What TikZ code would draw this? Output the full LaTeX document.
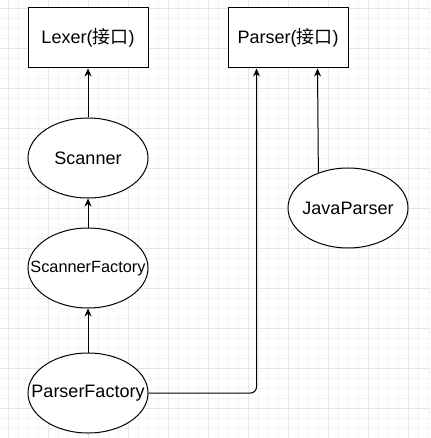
\documentclass[tikz,border=0pt]{standalone}
\usepackage{fontspec}
\setmainfont{Liberation Sans}
\newfontfamily\cjk{Noto Sans CJK SC}
\usetikzlibrary{arrows.meta,calc,shapes.geometric}
\definecolor{gridmajor}{HTML}{E6E6E6}
\definecolor{gridminor}{HTML}{F4F4F4}
\tikzset{
  box/.style={draw=black,line width=1pt,fill=white,minimum width=120pt,minimum height=60pt,inner sep=0pt,font=\fontsize{18}{20}\selectfont},
  oval/.style={ellipse,draw=black,line width=1pt,fill=white,minimum width=120pt,minimum height=80pt,inner sep=0pt},
  ovaltext/.style={font=\fontsize{18}{20}\selectfont,inner sep=0pt},
  conn/.style={draw=black,line width=1pt,-{Stealth[length=8pt,width=7pt]}}
}
\begin{document}
\begin{tikzpicture}[x=1pt,y=-1pt]
\useasboundingbox (0,0) rectangle (430,438);
\fill[white] (0,0) rectangle (430,438);
\foreach \i in {-2,...,43} {
  \draw[gridminor,line width=0.8pt] ({\i*10+8},0) -- ({\i*10+8},438);
  \draw[gridminor,line width=0.8pt] (0,{\i*10+8}) -- (430,{\i*10+8});
}
\foreach \i in {0,...,10} {
  \draw[gridmajor,line width=0.9pt] ({\i*40+8},0) -- ({\i*40+8},438);
  \draw[gridmajor,line width=0.9pt] (0,{\i*40+8}) -- (430,{\i*40+8});
}
\node[box] (lx) at (88,38) {Lexer({\cjk 接口})};
\node[box] (pa) at (288,38) {Parser({\cjk 接口})};
\node[oval] (sc) at (88,158) {};
\node[ovaltext] (sct) at (sc.center) {Scanner};
\node[oval] (sf) at (88,268) {};
\node[ovaltext,font=\fontsize{16.3}{18}\selectfont] (sft) at (sf.center) {ScannerFactory};
\node[oval] (pf) at (88,393) {};
\node[ovaltext] (pft) at (pf.center) {ParserFactory};
\node[oval] (jv) at (348,208) {};
\node[ovaltext] (jvt) at (jv.center) {JavaParser};
\draw[conn] (sc) -- (lx);
\draw[conn] (sf) -- (sc);
\draw[conn] (pf) -- (sf);
\draw[conn,rounded corners=6pt] (pf.east) -| ($(pa.south west)+(29,0)$);
\draw[conn] (jv.130) -- ($(pa.south east)+(-31,0)$);
\end{tikzpicture}
\end{document}
